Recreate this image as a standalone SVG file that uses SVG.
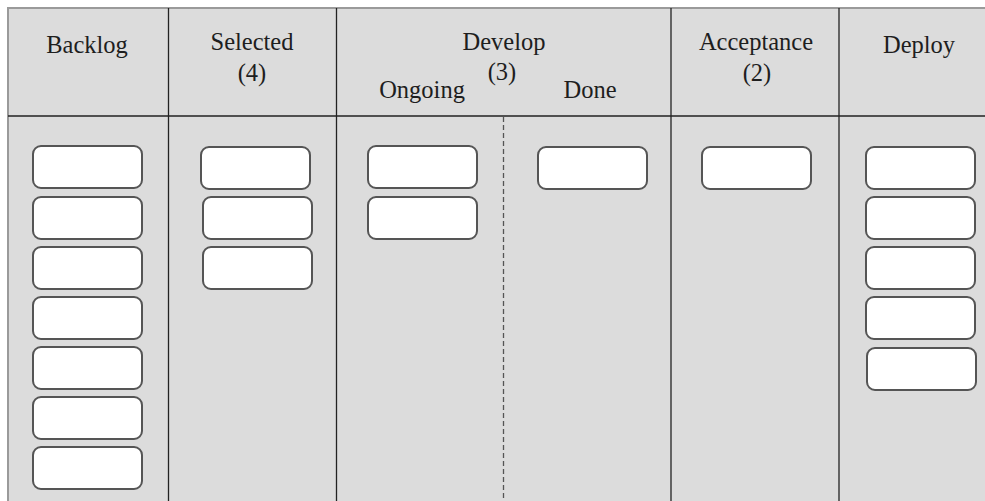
<svg xmlns="http://www.w3.org/2000/svg" width="985" height="501" viewBox="0 0 985 501">
  <style>
    .board { fill: #dcdcdc; }
    .frame { stroke: #9a9a9a; stroke-width: 2; fill: none; }
    .rule { stroke: #222222; stroke-width: 1.3; fill: none; }
    .split { stroke: #555; stroke-width: 1.3; stroke-dasharray: 5 3; fill: none; }
    .card { fill: #ffffff; stroke: #555555; stroke-width: 2; }
    .head { font-family: "Liberation Serif", "Times New Roman", serif; font-size: 24.5px; fill: #1e1e1e; text-anchor: middle; }
  </style>
  <defs>
    <rect id="card" x="0" y="0" width="109" height="42" rx="8" ry="8" class="card"/>
  </defs>

  <!-- board background and frame -->
  <rect class="board" x="8" y="8" width="990" height="500"/>
  <path class="frame" d="M8 502 V8 H985"/>

  <!-- column and header rules -->
  <g id="rules">
    <line class="rule" x1="8" y1="116" x2="985" y2="116"/>
    <line class="rule" x1="168.5" y1="8" x2="168.5" y2="501"/>
    <line class="rule" x1="336.5" y1="8" x2="336.5" y2="501"/>
    <line class="rule" x1="671" y1="8" x2="671" y2="501"/>
    <line class="rule" x1="839" y1="8" x2="839" y2="501"/>
    <line class="split" x1="503.5" y1="117" x2="503.5" y2="501"/>
  </g>

  <!-- column headers -->
  <g id="headers">
    <text class="head" x="87" y="53">Backlog</text>
    <text class="head" x="252" y="50">Selected</text>
    <text class="head" x="252" y="81">(4)</text>
    <text class="head" x="504" y="50">Develop</text>
    <text class="head" x="502" y="80">(3)</text>
    <text class="head" x="422" y="98">Ongoing</text>
    <text class="head" x="590" y="98">Done</text>
    <text class="head" x="756" y="50">Acceptance</text>
    <text class="head" x="757" y="81">(2)</text>
    <text class="head" x="919" y="53">Deploy</text>
  </g>

  <!-- Backlog cards -->
  <g id="backlog-1"><use href="#card" x="33" y="146"/></g>
  <g id="backlog-2"><use href="#card" x="33" y="197"/></g>
  <g id="backlog-3"><use href="#card" x="33" y="247"/></g>
  <g id="backlog-4"><use href="#card" x="33" y="297"/></g>
  <g id="backlog-5"><use href="#card" x="33" y="347"/></g>
  <g id="backlog-6"><use href="#card" x="33" y="397"/></g>
  <g id="backlog-7"><use href="#card" x="33" y="447"/></g>

  <!-- Selected cards -->
  <g id="selected-1"><use href="#card" x="201" y="147"/></g>
  <g id="selected-2"><use href="#card" x="203" y="197"/></g>
  <g id="selected-3"><use href="#card" x="203" y="247"/></g>

  <!-- Develop: ongoing / done -->
  <g id="ongoing-1"><use href="#card" x="368" y="146"/></g>
  <g id="ongoing-2"><use href="#card" x="368" y="197"/></g>
  <g id="done-1"><use href="#card" x="538" y="147"/></g>

  <!-- Acceptance -->
  <g id="acceptance-1"><use href="#card" x="702" y="147"/></g>

  <!-- Deploy cards -->
  <g id="deploy-1"><use href="#card" x="866" y="147"/></g>
  <g id="deploy-2"><use href="#card" x="866" y="197"/></g>
  <g id="deploy-3"><use href="#card" x="866" y="247"/></g>
  <g id="deploy-4"><use href="#card" x="866" y="297"/></g>
  <g id="deploy-5"><use href="#card" x="867" y="348"/></g>
</svg>
